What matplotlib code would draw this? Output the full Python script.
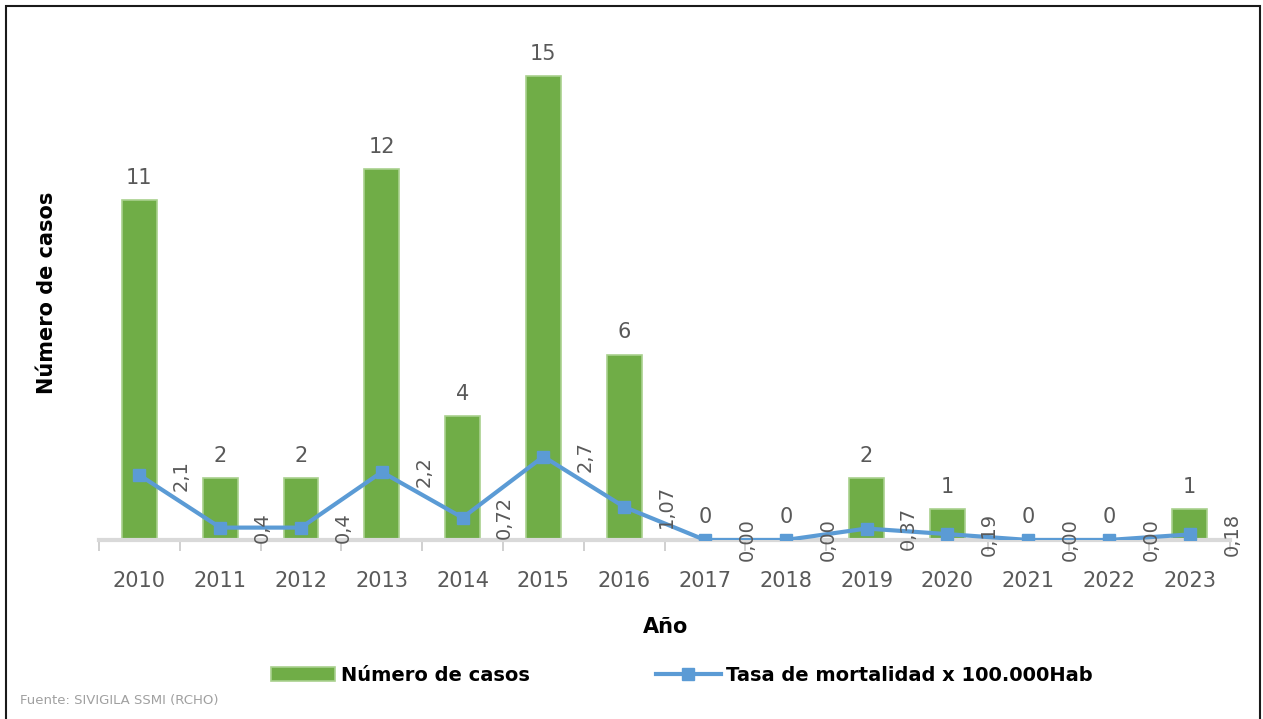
import numpy as np
import matplotlib as mpl
mpl.use('Agg')
from matplotlib import pyplot as plt
from matplotlib.patches import Rectangle

# data
anios = ['2010', '2011', '2012', '2013', '2014', '2015', '2016',
         '2017', '2018', '2019', '2020', '2021', '2022', '2023']
casos = [11, 2, 2, 12, 4, 15, 6, 0, 0, 2, 1, 0, 0, 1]
tasa = [2.1, 0.4, 0.4, 2.2, 0.72, 2.7, 1.07, 0.00, 0.00, 0.37, 0.19, 0.00, 0.00, 0.18]
tasa_txt = ['2,1', '0,4', '0,4', '2,2', '0,72', '2,7', '1,07',
            '0,00', '0,00', '0,37', '0,19', '0,00', '0,00', '0,18']

verde = '#70ad47'
azul = '#5b9bd5'
gris_txt = '#595959'

mpl.rcParams['font.family'] = 'DejaVu Sans'

fig = plt.figure(figsize=(12.63, 7.19), dpi=100)
ax = fig.add_axes([0.0784, 0.249, 0.8956, 0.6876])

x = np.arange(len(anios))
bars = ax.bar(x, casos, width=0.43, color=verde, edgecolor='#a9d18e',
              linewidth=1.2, label='Número de casos', zorder=2)
ln, = ax.plot(x, tasa, color=azul, lw=3, marker='s', markersize=8,
              label='Tasa de mortalidad x 100.000Hab', zorder=3)

# etiquetas de las barras
for xi, v in zip(x, casos):
    ax.annotate(str(v), (xi, v), xytext=(0, 9), textcoords='offset points',
                ha='center', va='bottom', fontsize=15, color=gris_txt)

# etiquetas de la tasa, giradas (se leen de abajo hacia arriba)
for xi, v, t in zip(x, tasa, tasa_txt):
    ax.text(xi + 0.52, v, t, rotation=90, ha='center', va='center',
            fontsize=14, color=gris_txt, zorder=4)

ax.set_xlim(-0.5, len(anios) - 0.5)
ax.set_ylim(0, 16)
ax.set_xticks(x)
ax.set_xticklabels(anios, fontsize=15, color=gris_txt)
ax.set_xticks(np.arange(len(anios) + 1) - 0.5, minor=True)
ax.tick_params(axis='x', which='major', length=0, pad=22)
ax.tick_params(axis='x', which='minor', length=8, width=1.2, color='#c8c8c8')
ax.set_yticks([])
for s in ['top', 'right', 'left']:
    ax.spines[s].set_visible(False)
ax.spines['bottom'].set_color('#d9d9d9')
ax.spines['bottom'].set_linewidth(3)

ax.set_ylabel('Número de casos', fontsize=15, fontweight='bold', labelpad=30)
fig.text(0.527, 0.128, 'Año', ha='center', va='center', fontsize=15, fontweight='bold')

fig.legend(handles=[bars, ln], loc='center', bbox_to_anchor=(0.54, 0.061),
           ncol=2, frameon=False, handlelength=3.3,
           columnspacing=6.5, handletextpad=0.3,
           prop={'weight': 'bold', 'size': 14})

fig.text(0.016, 0.026, 'Fuente: SIVIGILA SSMI (RCHO)', fontsize=9.5,
         color='#a0a0a0', ha='left', va='center')

# marco exterior
fig.patches.append(Rectangle((0.005, -0.01), 0.993, 1.0017, transform=fig.transFigure,
                             fill=False, edgecolor='#1a1a1a', linewidth=1.5))

fig.savefig('out.png', dpi=100)
